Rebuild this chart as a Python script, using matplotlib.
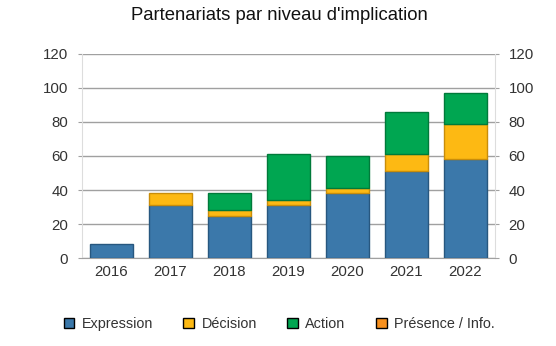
import matplotlib
matplotlib.use("Agg")
import matplotlib.pyplot as plt
import numpy as np

plt.rcParams['font.family'] = ['Liberation Sans', 'DejaVu Sans']

# Partnership counts per year, stacked by level of involvement
years = ['2016', '2017', '2018', '2019', '2020', '2021', '2022']
expression = [8, 31, 25, 31, 38, 51, 58]
decision = [0, 7, 3, 3, 3, 10, 21]
action = [0, 0, 10, 27, 19, 25, 18]
presence = [0, 0, 0, 0, 0, 0, 0]

series = [
    ('Expression', expression, '#3b78aa', '#27577f'),
    ('Décision', decision, '#fdb913', '#c98d0a'),
    ('Action', action, '#00a651', '#007a3a'),
    ('Présence / Info.', presence, '#f7901e', '#b86510'),
]

fig = plt.figure(figsize=(5.56, 3.46), dpi=100)
ax = fig.add_axes([0.1475, 0.2543, 0.7425, 0.5897])

x = np.arange(len(years))
bottom = np.zeros(len(years))
handles = []
for name, vals, face, edge in series:
    vals = np.array(vals, dtype=float)
    keep = vals > 0  # empty segments get no outline
    ax.bar(x[keep], vals[keep], 0.74, bottom=bottom[keep], color=face, edgecolor=edge,
           linewidth=1, zorder=3)
    bottom += vals
    handles.append(plt.Rectangle((0, 0), 1, 1, facecolor=face, edgecolor='black', linewidth=1))

ax.set_xlim(-0.5, len(years) - 0.5)
ax.set_ylim(0, 120)
ax.set_yticks(np.arange(0, 121, 20))
ax.set_xticks(x)
ax.set_xticklabels(years)
ax.yaxis.grid(True, color='#a0a0a0', linewidth=1, zorder=0)
ax.tick_params(axis='y', which='both', left=True, right=True, labelleft=True, labelright=True,
               length=3, color='#a0a0a0', labelsize=10.8, labelcolor='#333333', pad=7)
ax.tick_params(axis='x', length=0, labelsize=10.8, labelcolor='#333333', pad=5)
for s in ['left', 'right']:
    ax.spines[s].set_color('#dddddd')
ax.spines['top'].set_visible(False)
ax.spines['bottom'].set_color('#a0a0a0')

fig.text(0.502, 0.955, "Partenariats par niveau d'implication", ha='center', va='center',
         fontsize=13.3, color='#111111')

fig.legend(handles, [s[0] for s in series], loc='center', bbox_to_anchor=(0.502, 0.063),
           ncol=4, frameon=False, fontsize=10.4, handlelength=0.75, handleheight=0.75,
           handletextpad=0.5, columnspacing=2.1, labelcolor='#333333')

fig.savefig('out.png', dpi=100)
